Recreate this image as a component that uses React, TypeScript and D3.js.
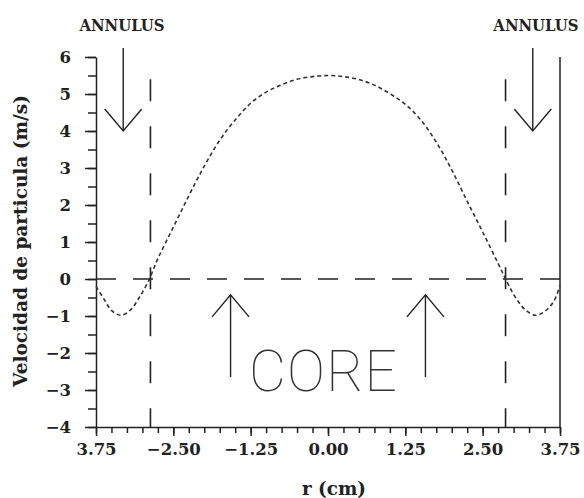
import React, { useEffect, useRef } from "react";
import * as d3 from "d3";

// perfil de velocidad
const radius = [-3.75, -3.6, -3.5, -3.35, -3.2, -3.05, -2.9, -2.75, -2.5, -2.25, -2.0, -1.75, -1.5, -1.25, -1.0, -0.75, -0.5, -0.25, 0,
  0.25, 0.5, 0.75, 1.0, 1.25, 1.5, 1.75, 2.0, 2.25, 2.5, 2.75, 2.9, 3.05, 3.2, 3.35, 3.5, 3.65, 3.75];
const velocity = [-0.2, -0.6, -0.85, -0.98, -0.85, -0.5, -0.05, 0.55, 1.4, 2.25, 3.05, 3.75, 4.3, 4.75, 5.05, 5.25, 5.4, 5.47, 5.5,
  5.47, 5.39, 5.24, 5.01, 4.72, 4.3, 3.7, 2.95, 2.1, 1.27, 0.42, -0.1, -0.55, -0.85, -0.98, -0.88, -0.6, -0.18];

const xTicks = [-3.75, -2.5, -1.25, 0, 1.25, 2.5, 3.75];
const xTickLabels = ["3.75", "\u22122.50", "\u22121.25", "0.00", "1.25", "2.50", "3.75"];
const yTicks = [-4, -3, -2, -1, 0, 1, 2, 3, 4, 5, 6];
const wallLines = [-2.87, 2.87]; // limites core / annulus
const annulusArrows = [-3.31, 3.31];
const coreArrows = [-1.575, 1.575];
const annulusLabels = [-3.33, 3.36];

export default function App() {
  const ref = useRef<SVGSVGElement>(null);

  useEffect(() => {
    const svg = d3.select(ref.current);
    svg.selectAll("*").remove();

    const x = d3.scaleLinear().domain([-3.75, 3.75]).range([96, 560]);
    const y = d3.scaleLinear().domain([-4, 6]).range([427, 57]);
    const ink = "#222";
    const serif = "'DejaVu Serif', serif";

    // ticks menores
    const xMinor = d3.range(-3.75, 3.76, 0.25);
    const yMinor = d3.range(-4, 6.01, 0.5);

    svg.append("g")
      .attr("transform", "translate(0,427)")
      .call(d3.axisBottom(x).tickValues(xMinor).tickSize(6).tickFormat(() => "").tickSizeOuter(0))
      .call(g => g.selectAll("line,path").attr("stroke", ink).attr("stroke-width", 1.5));

    svg.append("g")
      .attr("transform", "translate(0,427)")
      .call(d3.axisBottom(x).tickValues(xTicks).tickSize(9).tickSizeOuter(0)
        .tickFormat((d, i) => xTickLabels[i]))
      .call(g => g.select(".domain").remove())
      .call(g => g.selectAll("line").attr("stroke", ink).attr("stroke-width", 1.5))
      .call(g => g.selectAll("text").attr("y", 16).attr("dy", 0).attr("dominant-baseline", "hanging")
        .attr("font-family", serif).attr("font-weight", "bold").attr("font-size", 16.5).attr("fill", ink));

    svg.append("g")
      .attr("transform", "translate(96,0)")
      .call(d3.axisLeft(y).tickValues(yMinor).tickSize(8).tickFormat(() => "").tickSizeOuter(0))
      .call(g => g.selectAll("line,path").attr("stroke", ink).attr("stroke-width", 1.5));

    svg.append("g")
      .attr("transform", "translate(96,0)")
      .call(d3.axisLeft(y).tickValues(yTicks).tickSize(11).tickSizeOuter(0)
        .tickFormat(d => (+d < 0 ? "\u2212" + Math.abs(+d) : String(d))))
      .call(g => g.select(".domain").remove())
      .call(g => g.selectAll("line").attr("stroke", ink).attr("stroke-width", 1.5))
      .call(g => g.selectAll("text").attr("x", -25)
        .attr("font-family", serif).attr("font-weight", "bold").attr("font-size", 16.5).attr("fill", ink));

    // borde derecho
    svg.append("line")
      .attr("x1", x(3.75)).attr("x2", x(3.75))
      .attr("y1", y(6)).attr("y2", y(-4))
      .attr("stroke", ink).attr("stroke-width", 1.5);

    // linea de cero
    svg.append("line")
      .attr("x1", x(-3.75)).attr("x2", x(3.75))
      .attr("y1", y(0)).attr("y2", y(0))
      .attr("stroke", ink).attr("stroke-width", 1.5)
      .attr("stroke-dasharray", "20,17");

    // paredes del core
    svg.selectAll(".wall")
      .data(wallLines)
      .enter()
      .append("line")
      .attr("x1", d => x(d)).attr("x2", d => x(d))
      .attr("y1", y(5.4)).attr("y2", y(-4))
      .attr("stroke", ink).attr("stroke-width", 1.6)
      .attr("stroke-dasharray", "22,25");

    // curva de velocidad
    const line = d3.line<number>()
      .x((d, i) => x(radius[i]))
      .y(d => y(d))
      .curve(d3.curveCatmullRom);

    svg.append("path")
      .datum(velocity)
      .attr("d", line)
      .attr("fill", "none")
      .attr("stroke", "#333")
      .attr("stroke-width", 1.6)
      .attr("stroke-dasharray", "4,3");

    // flechas
    const arrow = (r: number, from: number, to: number) => {
      const g = svg.append("g").attr("stroke", ink).attr("stroke-width", 1.4).attr("fill", "none");
      const dir = Math.sign(y(to) - y(from));
      g.append("line").attr("x1", x(r)).attr("x2", x(r)).attr("y1", y(from)).attr("y2", y(to));
      g.append("polyline").attr("points",
        `${x(r) - 18.5},${y(to) - dir * 22} ${x(r)},${y(to)} ${x(r) + 18.5},${y(to) - dir * 22}`);
    };
    annulusArrows.forEach(r => arrow(r, 6.24, 4.0));
    coreArrows.forEach(r => arrow(r, -2.65, -0.43));

    svg.selectAll(".annulus")
      .data(annulusLabels)
      .enter()
      .append("text")
      .attr("x", d => x(d))
      .attr("y", 31)
      .attr("text-anchor", "middle")
      .attr("font-family", serif).attr("font-weight", "bold").attr("font-size", 16)
      .attr("textLength", 85).attr("lengthAdjust", "spacingAndGlyphs")
      .attr("fill", ink)
      .text("ANNULUS");

    svg.append("text")
      .attr("x", x(-0.08))
      .attr("y", y(-3.03))
      .attr("text-anchor", "middle")
      .attr("font-family", "Roboto, 'DejaVu Sans', sans-serif").attr("font-weight", 100).attr("font-size", 57)
      .attr("textLength", 148).attr("lengthAdjust", "spacing")
      .attr("fill", "#333")
      .text("CORE");

    // titulos de ejes
    svg.append("text")
      .attr("x", 334).attr("y", 495)
      .attr("text-anchor", "middle")
      .attr("font-family", serif).attr("font-weight", "bold").attr("font-size", 18)
      .attr("textLength", 64).attr("lengthAdjust", "spacingAndGlyphs")
      .attr("fill", ink)
      .text("r (cm)");

    svg.append("text")
      .attr("transform", "translate(27,241) rotate(-90)")
      .attr("text-anchor", "middle")
      .attr("font-family", serif).attr("font-weight", "bold").attr("font-size", 18.5)
      .attr("textLength", 292).attr("lengthAdjust", "spacingAndGlyphs")
      .attr("fill", ink)
      .text("Velocidad de particula (m/s)");
  }, []);

  return (
    <svg ref={ref} width={584} height={498}
      style={{ position: "absolute", left: 0, top: 0, background: "#fff" }} />
  );
}
